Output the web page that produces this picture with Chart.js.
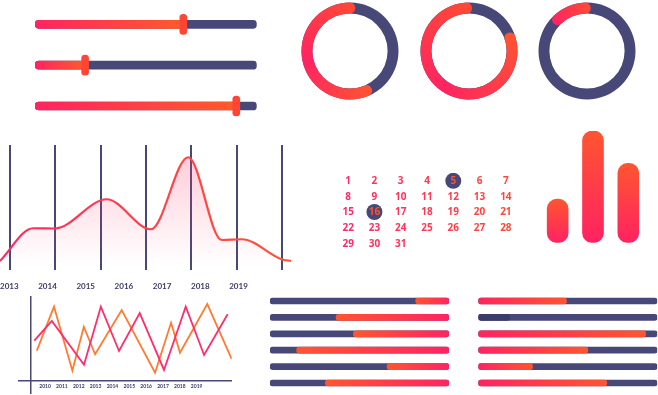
<!DOCTYPE html>
<html><head><meta charset="utf-8">
<script src="https://cdn.jsdelivr.net/npm/chart.js@4/dist/chart.umd.min.js"></script>
<style>
html,body{margin:0;padding:0;background:#fff;overflow:hidden;width:658px;height:395px;}
canvas{position:absolute;}
</style></head><body>
<canvas id="sliders" width="290" height="130" style="left:0;top:0"></canvas>
<canvas id="d0u" width="100" height="100" style="left:300px;top:1px"></canvas>
<canvas id="d0o" width="100" height="100" style="left:300px;top:1px"></canvas>
<canvas id="d1u" width="100" height="100" style="left:419px;top:1px"></canvas>
<canvas id="d1o" width="100" height="100" style="left:419px;top:1px"></canvas>
<canvas id="d2u" width="100" height="100" style="left:537px;top:1px"></canvas>
<canvas id="d2o" width="100" height="100" style="left:537px;top:1px"></canvas>
<canvas id="area" width="300" height="160" style="left:0;top:130px"></canvas>
<canvas id="cal" width="200" height="94" style="left:327px;top:165px"></canvas>
<canvas id="bars" width="106" height="120" style="left:540px;top:125px"></canvas>
<canvas id="lines" width="250" height="105" style="left:0;top:290px"></canvas>
<canvas id="progL" width="195" height="100" style="left:262px;top:292px"></canvas>
<canvas id="progR" width="188" height="100" style="left:470px;top:292px"></canvas>
<script>
// ---------------- DATA ----------------
const sliderRows = ['Slider 1', 'Slider 2', 'Slider 3'];
const sliderValues = [66.9, 22.6, 90.8];

const donutFilled = [217, 299, 55.5];      // degrees of coloured arc
const donutStart = [150, 65, 309.5];        // where the coloured arc starts (deg, clockwise from top)

const areaX = [-0.22, 0.51, 0.99, 2.13, 3.11, 3.93, 4.67, 5.11, 5.99, 6.2];
const areaY = [7.2, 33.4, 33.2, 56.6, 32.6, 90.2, 24, 24.6, 8.6, 7.2];
const areaGridLines = [0, 1, 2, 3, 4, 5, 6];
const areaYears = [2013, 2014, 2015, 2016, 2017, 2018, 2019];

const calendarDays = [1,2,3,4,5,6,7,8,9,10,11,12,13,14,15,16,17,18,19,20,21,22,23,24,25,26,27,28,29,30,31];
const highlightedDays = [5, 16];

const barLabels = ['A', 'B', 'C'];
const barValues = [39, 100, 71];

const lineYears = [2010, 2011, 2012, 2013, 2014, 2015, 2016, 2017, 2018, 2019];
const orangeX = [2009.51, 2010.53, 2011.62, 2012.30, 2012.97, 2014.55, 2016.53, 2017.48, 2018.01, 2019.63, 2021.08];
const orangeY = [35.7, 88.4, 11.7, 64.4, 31.4, 84.4, 9.3, 69.2, 33.3, 91.6, 25.7];
const pinkX = [2009.36, 2010.40, 2012.31, 2013.31, 2014.39, 2015.62, 2017.06, 2018.35, 2019.44, 2020.84];
const pinkY = [47.7, 71.3, 18.9, 88.4, 35.3, 80.8, 12.6, 88.4, 30.5, 79.3];

const progressRows = ['1', '2', '3', '4', '5', '6'];
const progressLeftStart = [81.4, 36.9, 46.6, 14.9, 65.4, 30.9];
const progressRightEnd = [49.3, 17.7, 93.5, 61.2, 30.3, 71.8];

// ---------------- STYLE ----------------
const PINK = '#FF2462', ORANGE = '#FF5A2B', NAVY = '#474878', DARKNAVY = '#3b3c6a';
const rightSegmentDark = [false, true, false, false, false, false];

Chart.defaults.animation = false;
Chart.defaults.responsive = false;
Chart.defaults.events = [];
Chart.defaults.plugins.legend.display = false;
Chart.defaults.plugins.tooltip.enabled = false;

const noSidePadding = s => { s.paddingLeft = 0; s.paddingRight = 0; };

function hGrad(c, a, b) {
  const ch = c.chart;
  if (!ch.chartArea || !Array.isArray(c.raw)) return a;
  const xs = ch.scales.x;
  const x0 = xs.getPixelForValue(c.raw[0]), x1 = xs.getPixelForValue(c.raw[1]);
  const g = ch.ctx.createLinearGradient(x0, 0, x1 + 0.01, 0);
  g.addColorStop(0, a); g.addColorStop(1, b);
  return g;
}

// ---------------- SLIDERS ----------------
const HANDLE_HALF = 1.58;
new Chart(document.getElementById('sliders'), {
  type: 'bar',
  data: {
    labels: sliderRows,
    datasets: [
      { data: sliderValues.map(v => [v - HANDLE_HALF, v + HANDLE_HALF]), backgroundColor: '#FF4634',
        barThickness: 20, borderRadius: 3.5, borderSkipped: false, grouped: false },
      { data: sliderValues.map(v => [0, v]), backgroundColor: c => hGrad(c, PINK, ORANGE),
        barThickness: 8, borderRadius: 4, borderSkipped: false, grouped: false },
      { data: sliderRows.map(() => [0, 100]), backgroundColor: NAVY,
        barThickness: 8, borderRadius: 4, borderSkipped: false, grouped: false }
    ]
  },
  options: {
    indexAxis: 'y',
    layout: { padding: { left: 35, right: 33.3, top: 3.9, bottom: 3.6 } },
    scales: { x: { display: false, min: 0, max: 100 }, y: { display: false } }
  }
});

// ---------------- DONUTS ----------------
const donutStops = [
  [[0, '#FF5530'], [0.3, '#FF2462'], [0.6, '#FF4A35'], [1, '#FF4A35']],
  [[0, '#FF5530'], [0.42, '#FF2462'], [0.83, '#FF4A35'], [1, '#FF4A35']],
  [[0, '#FF2462'], [0.154, '#FF4A35'], [1, '#FF4A35']]
];
function conic(c, i) {
  const ch = c.chart, a = ch.chartArea;
  if (!a) return PINK;
  const cx = (a.left + a.right) / 2, cy = (a.top + a.bottom) / 2;
  const g = ch.ctx.createConicGradient((donutStart[i] - 90) * Math.PI / 180, cx, cy);
  donutStops[i].forEach(s => g.addColorStop(s[0], s[1]));
  return g;
}
for (let i = 0; i < 3; i++) {
  new Chart(document.getElementById('d' + i + 'u'), {
    type: 'doughnut',
    data: { datasets: [{ data: [360], backgroundColor: NAVY, borderWidth: 0 }] },
    options: { cutout: '77.5%', layout: { padding: 1.5 } }
  });
  new Chart(document.getElementById('d' + i + 'o'), {
    type: 'doughnut',
    data: { datasets: [{ data: [donutFilled[i], 360 - donutFilled[i]],
      backgroundColor: c => c.dataIndex === 0 ? conic(c, i) : 'rgba(0,0,0,0)',
      borderWidth: 0, borderRadius: [6, 0] }] },
    options: { cutout: '77.5%', rotation: donutStart[i], layout: { padding: 1.5 } }
  });
}

// ---------------- AREA CURVE ----------------
new Chart(document.getElementById('area'), {
  type: 'line',
  data: { datasets: [{
    data: areaX.map((x, i) => ({ x: x, y: areaY[i] })),
    borderColor: c => {
      const a = c.chart.chartArea; if (!a) return PINK;
      const g = c.chart.ctx.createLinearGradient(a.left, 0, a.right, 0);
      g.addColorStop(0, '#FF2A62'); g.addColorStop(1, '#FF5535'); return g;
    },
    backgroundColor: c => {
      const a = c.chart.chartArea; if (!a) return 'rgba(255,40,100,0.15)';
      const ys = c.chart.scales.y;
      const g = c.chart.ctx.createLinearGradient(0, ys.getPixelForValue(92), 0, ys.getPixelForValue(4));
      g.addColorStop(0, 'rgba(255,60,110,0.26)'); g.addColorStop(1, 'rgba(255,60,110,0.0)'); return g;
    },
    fill: 'origin', borderWidth: 2.2, pointRadius: 0, cubicInterpolationMode: 'monotone'
  }] },
  options: {
    layout: { padding: { left: 0, right: 8, top: 15, bottom: 20 } },
    scales: {
      x: { type: 'linear', min: -0.22, max: 6.22,
        afterBuildTicks: s => { s.ticks = areaGridLines.map(v => ({ value: v })); },
        afterFit: noSidePadding,
        ticks: { display: false }, grid: { color: NAVY, lineWidth: 2, drawTicks: false }, border: { display: false } },
      yr: { type: 'linear', axis: 'x', position: { y: 0 }, min: 2012.757, max: 2020.40,
        afterBuildTicks: s => { s.ticks = areaYears.map(v => ({ value: v })); },
        afterFit: noSidePadding,
        ticks: { callback: v => String(v), autoSkip: false, maxRotation: 0, padding: 4,
          color: '#3a3b68', font: { family: 'Lato', size: 8, weight: 'bold' } },
        grid: { display: false }, border: { display: false } },
      y: { display: false, min: 0, max: 100 }
    }
  }
});

// ---------------- CALENDAR ----------------
function colColor(col) {
  const t = (col - 1) / 6;
  const r = 255, g = Math.round(42 + (72 - 42) * t), b = Math.round(104 + (58 - 104) * t);
  return `rgb(${r},${g},${b})`;
}
const calendarText = {
  id: 'calendarText',
  afterDatasetsDraw(chart) {
    const meta = chart.getDatasetMeta(1), ctx = chart.ctx;
    ctx.save();
    ctx.font = 'bold 10px "Open Sans"';
    ctx.textAlign = 'center'; ctx.textBaseline = 'middle';
    meta.data.forEach((el, i) => {
      const d = calendarDays[i];
      const col = ((d - 1) % 7) + 1;
      ctx.fillStyle = highlightedDays.includes(d) ? '#FF5030' : colColor(col);
      ctx.fillText(String(d), el.x, el.y + 0.5);
    });
    ctx.restore();
  }
};
const dayPos = d => ({ x: ((d - 1) % 7) + 1, y: Math.floor((d - 1) / 7) + 1 });
new Chart(document.getElementById('cal'), {
  type: 'scatter',
  data: { datasets: [
    { data: highlightedDays.map(dayPos), pointRadius: 8, backgroundColor: NAVY, borderWidth: 0 },
    { data: calendarDays.map(dayPos), pointRadius: 0 }
  ] },
  options: {
    scales: { x: { display: false, min: 0.5, max: 7.5 }, y: { display: false, min: 0.5, max: 5.5, reverse: true } }
  },
  plugins: [calendarText]
});

// ---------------- BARS ----------------
new Chart(document.getElementById('bars'), {
  type: 'bar',
  data: { labels: barLabels, datasets: [{
    data: barValues,
    backgroundColor: c => {
      const ch = c.chart; if (!ch.chartArea || typeof c.raw !== 'number') return ORANGE;
      const ys = ch.scales.y;
      const g = ch.ctx.createLinearGradient(0, ys.getPixelForValue(c.raw), 0, ys.getPixelForValue(0));
      g.addColorStop(0, '#FF5530'); g.addColorStop(1, '#FF2262'); return g;
    },
    barThickness: 21, borderRadius: 10, borderSkipped: false
  }] },
  options: {
    layout: { padding: { top: 6, bottom: 2.3 } },
    scales: { x: { display: false }, y: { display: false, min: 0, max: 100 } }
  }
});

// ---------------- ZIGZAG LINES ----------------
new Chart(document.getElementById('lines'), {
  type: 'line',
  data: { datasets: [
    { data: pinkX.map((x, i) => ({ x: x, y: pinkY[i] })), borderColor: '#FF2D6C', borderWidth: 1.8, pointRadius: 0, tension: 0 },
    { data: orangeX.map((x, i) => ({ x: x, y: orangeY[i] })), borderColor: '#FF7B33', borderWidth: 1.8, pointRadius: 0, tension: 0 }
  ] },
  options: {
    layout: { padding: { left: 18.3, right: 18.3, top: 7, bottom: 2 } },
    scales: {
      x: { type: 'linear', min: 2008.41, max: 2021.08, position: { y: 0 },
        afterBuildTicks: s => { s.ticks = lineYears.map(v => ({ value: v })); },
        afterFit: noSidePadding,
        ticks: { callback: v => String(v), autoSkip: false, maxRotation: 0, padding: 3,
          color: '#3a3b68', font: { family: 'Lato', size: 5, weight: 'bold' } },
        grid: { drawOnChartArea: false, drawTicks: false }, border: { color: NAVY, width: 1.5 } },
      y: { type: 'linear', min: -15, max: 100, position: { x: 2009.17 },
        ticks: { display: false }, grid: { drawOnChartArea: false, drawTicks: false }, border: { color: NAVY, width: 1.5 } }
    }
  }
});

// ---------------- PROGRESS BARS ----------------
new Chart(document.getElementById('progL'), {
  type: 'bar',
  data: { labels: progressRows, datasets: [
    { data: progressLeftStart.map(v => [v, 100]), backgroundColor: c => hGrad(c, '#FF5530', '#FF2462'),
      barThickness: 6, borderRadius: 3, borderSkipped: false, grouped: false },
    { data: progressRows.map(() => [0, 100]), backgroundColor: NAVY,
      barThickness: 6, borderRadius: 3, borderSkipped: false, grouped: false }
  ] },
  options: {
    indexAxis: 'y',
    layout: { padding: { left: 8, right: 8, top: 0.8, bottom: 0.8 } },
    scales: { x: { display: false, min: 0, max: 100 }, y: { display: false } }
  }
});
new Chart(document.getElementById('progR'), {
  type: 'bar',
  data: { labels: progressRows, datasets: [
    { data: progressRightEnd.map(v => [0, v]),
      backgroundColor: c => rightSegmentDark[c.dataIndex] ? DARKNAVY : hGrad(c, '#FF2462', '#FF5530'),
      barThickness: 6, borderRadius: 3, borderSkipped: false, grouped: false },
    { data: progressRows.map(() => [0, 100]), backgroundColor: NAVY,
      barThickness: 6, borderRadius: 3, borderSkipped: false, grouped: false }
  ] },
  options: {
    indexAxis: 'y',
    layout: { padding: { left: 8.3, right: 0.7, top: 0.8, bottom: 0.8 } },
    scales: { x: { display: false, min: 0, max: 100 }, y: { display: false } }
  }
});
</script>
</body></html>
